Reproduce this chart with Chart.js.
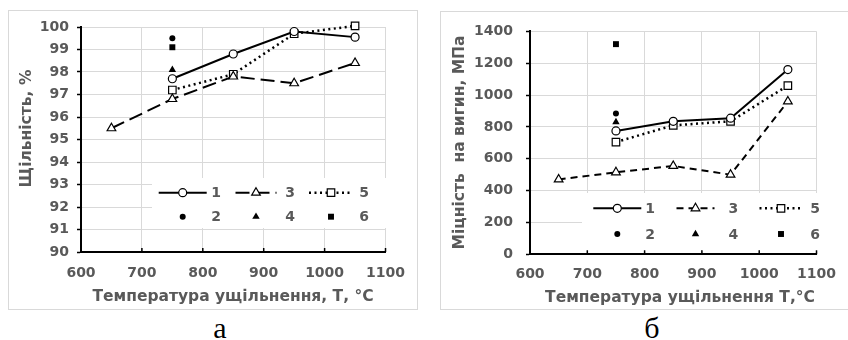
<!DOCTYPE html>
<html>
<head>
<meta charset="utf-8">
<script src="https://cdn.jsdelivr.net/npm/chart.js@4.4.1/dist/chart.umd.min.js"></script>
<style>
  html, body { margin: 0; padding: 0; background: #fff; }
  body { width: 848px; height: 340px; position: relative; overflow: hidden; }
  .frame { position: absolute; border: 1px solid #d9d9d9; box-sizing: border-box; }
  .holder { position: absolute; }
  .cap { position: absolute; font-family: "Liberation Serif", "DejaVu Serif", serif; font-size: 30px; line-height: 30px; color: #000; transform: translateX(-50%); }
</style>
</head>
<body>
<div class="frame" style="left:8px;top:10px;width:410px;height:300px;"></div>
<div class="frame" style="left:440px;top:11px;width:420px;height:299px;"></div>
<div class="holder" style="left:8px;top:10px;width:410px;height:300px;"><canvas id="chartA" width="410" height="300"></canvas></div>
<div class="holder" style="left:440px;top:10px;width:408px;height:300px;"><canvas id="chartB" width="408" height="300"></canvas></div>
<div class="cap" style="left:220px;top:313px;">а</div>
<div class="cap" style="left:652px;top:313px;">б</div>

<script>
// Sintering temperatures, °C
const temps = [750, 850, 950, 1050];
const tempsWide = [650, 750, 850, 950, 1050];
const tempSingle = [750];
const seriesLabels = ['1', '2', '3', '4', '5', '6'];

// Relative density, %
const density1 = [97.7, 98.8, 99.8, 99.55];
const density2 = [99.5];
const density3 = [95.5, 96.8, 97.8, 97.5, 98.4];
const density4 = [98.1];
const density5 = [97.2, 97.9, 99.7, 100.05];
const density6 = [99.1];

// Bending strength, MPa
const strength1 = [775, 835, 855, 1160];
const strength2 = [885];
const strength3 = [470, 515, 555, 500, 960];
const strength4 = [830];
const strength5 = [705, 810, 835, 1060];
const strength6 = [1320];

// Axis tick values
const tempTicks = [600, 700, 800, 900, 1000, 1100];
const densityTicks = [90, 91, 92, 93, 94, 95, 96, 97, 98, 99, 100];
const strengthTicks = [0, 200, 400, 600, 800, 1000, 1200, 1400];

const FONT = '"DejaVu Sans", Verdana, sans-serif';
const GREY = '#595959';

function pts(xs, ys) { return xs.map((x, i) => ({ x: x, y: ys[i] })); }

function buildDatasets(s1, s2, s3, s4, s5, s6, dash3) {
  const base = { borderColor: '#000', pointBorderColor: '#000', clip: false, fill: false, tension: 0 };
  return [
    Object.assign({}, base, { label: seriesLabels[0], data: pts(temps, s1), showLine: true, borderWidth: 2,
      pointStyle: 'circle', pointRadius: 4, pointBackgroundColor: '#fff', pointBorderWidth: 1.2 }),
    Object.assign({}, base, { label: seriesLabels[1], data: pts(tempSingle, s2), showLine: false,
      pointStyle: 'circle', pointRadius: 3, pointBackgroundColor: '#000', pointBorderWidth: 0 }),
    Object.assign({}, base, { label: seriesLabels[2], data: pts(tempsWide, s3), showLine: true, borderWidth: 2, borderDash: dash3,
      pointStyle: 'triangle', pointRadius: 5, pointBackgroundColor: '#fff', pointBorderWidth: 1.2 }),
    Object.assign({}, base, { label: seriesLabels[3], data: pts(tempSingle, s4), showLine: false,
      pointStyle: 'triangle', pointRadius: 4.3, pointBackgroundColor: '#000', pointBorderWidth: 0 }),
    Object.assign({}, base, { label: seriesLabels[4], data: pts(temps, s5), showLine: true, borderWidth: 2.5, borderDash: [2, 3.5],
      pointStyle: 'rect', pointRadius: 5.3, pointBackgroundColor: '#fff', pointBorderWidth: 1.2 }),
    Object.assign({}, base, { label: seriesLabels[5], data: pts(tempSingle, s6), showLine: false,
      pointStyle: 'rect', pointRadius: 4.2, pointBackgroundColor: '#000', pointBorderWidth: 0 })
  ];
}

// Axis titles, inward x ticks and the in-plot legend
const decorPlugin = {
  id: 'decor',
  afterDraw(chart, args, o) {
    const { ctx, chartArea, scales } = chart;
    ctx.save();

    ctx.strokeStyle = '#000';
    ctx.lineWidth = 1.5;
    scales.x.ticks.forEach(t => {
      const px = scales.x.getPixelForValue(t.value);
      if (px <= chartArea.left + 1) return;
      ctx.beginPath();
      ctx.moveTo(px, chartArea.bottom);
      ctx.lineTo(px, chartArea.bottom - 4);
      ctx.stroke();
    });

    const lg = o.legend;
    ctx.fillStyle = '#fff';
    ctx.fillRect(lg.box[0], lg.box[1], lg.box[2] - lg.box[0], lg.box[3] - lg.box[1]);
    chart.data.datasets.forEach((ds, i) => {
      const col = lg.cols[Math.floor(i / 2)];
      const y = lg.rows[i % 2];
      if (ds.showLine) {
        ctx.save();
        ctx.strokeStyle = ds.borderColor;
        ctx.lineWidth = ds.borderWidth;
        ctx.setLineDash(ds.borderDash || []);
        ctx.beginPath();
        ctx.moveTo(col.marker - col.half, y);
        ctx.lineTo(col.marker + col.half, y);
        ctx.stroke();
        ctx.restore();
      }
      ctx.fillStyle = ds.pointBackgroundColor;
      ctx.strokeStyle = ds.pointBorderColor;
      ctx.lineWidth = ds.pointBorderWidth;
      ctx.setLineDash([]);
      Chart.helpers.drawPoint(ctx, { pointStyle: ds.pointStyle, radius: ds.pointRadius, rotation: 0, borderWidth: ds.pointBorderWidth }, col.marker, y);
      ctx.fillStyle = GREY;
      ctx.font = 'bold 14px ' + FONT;
      ctx.textAlign = 'center';
      ctx.textBaseline = 'middle';
      ctx.fillText(ds.label, col.text, y + 1);
    });

    ctx.fillStyle = GREY;
    ctx.font = 'bold 15.5px ' + FONT;
    ctx.textAlign = 'center';
    ctx.textBaseline = 'middle';
    ctx.fillText(o.xTitle, o.xTitlePos[0], o.xTitlePos[1]);
    ctx.translate(o.yTitlePos[0], o.yTitlePos[1]);
    ctx.rotate(-Math.PI / 2);
    ctx.fillText(o.yTitle, 0, 0);
    ctx.restore();
  }
};

function makeChart(id, datasets, yTicks, geo) {
  const tickFont = { family: FONT, size: 14, weight: 'bold' };
  return new Chart(document.getElementById(id), {
    type: 'line',
    data: { datasets: datasets },
    plugins: [decorPlugin],
    options: {
      responsive: false,
      animation: false,
      events: [],
      layout: { padding: { top: geo.top, right: geo.right, left: 0, bottom: 0 } },
      plugins: {
        legend: { display: false },
        tooltip: { enabled: false },
        decor: geo.decor
      },
      scales: {
        x: {
          type: 'linear',
          min: tempTicks[0], max: tempTicks[tempTicks.length - 1],
          afterBuildTicks: s => { s.ticks = tempTicks.map(v => ({ value: v })); },
          afterFit: s => { s.height = geo.xHeight; },
          ticks: { color: GREY, font: tickFont, padding: geo.xPad, maxRotation: 0, callback: v => String(v) },
          grid: { color: '#d9d9d9', lineWidth: 1, drawTicks: false },
          border: { color: '#000', width: 2 }
        },
        y: {
          min: yTicks[0], max: yTicks[yTicks.length - 1],
          afterBuildTicks: s => { s.ticks = yTicks.map(v => ({ value: v })); },
          afterFit: s => { s.width = geo.yWidth; },
          ticks: { color: GREY, font: tickFont, padding: geo.yPad, callback: v => String(v) },
          grid: { color: '#d9d9d9', lineWidth: 1, tickColor: '#000', tickLength: 4, tickWidth: 1.5 },
          border: { color: '#000', width: 2 }
        }
      }
    }
  });
}

makeChart('chartA',
  buildDatasets(density1, density2, density3, density4, density5, density6, [14, 6]),
  densityTicks,
  {
    top: 17, right: 29.5, xHeight: 58, yWidth: 73, xPad: 13, yPad: 8,
    decor: {
      xTitle: 'Температура ущільнення, Т, °C', xTitlePos: [225, 287],
      yTitle: 'Щільність, %', yTitlePos: [18.5, 118.5],
      legend: {
        box: [144, 168, 378, 218],
        rows: [182.7, 206.7],
        cols: [
          { marker: 174.7, half: 24, text: 208 },
          { marker: 248, half: 20.5, text: 282 },
          { marker: 323, half: 22, text: 356 }
        ]
      }
    }
  });

makeChart('chartB',
  buildDatasets(strength1, strength2, strength3, strength4, strength5, strength6, [7, 5]),
  strengthTicks,
  {
    top: 14.3, right: 20, xHeight: 55.7, yWidth: 90, xPad: 12, yPad: 13,
    decor: {
      xTitle: 'Температура ущільнення Т,°C', xTitlePos: [240, 287.5],
      yTitle: 'Міцність  на вигин, МПа', yTitlePos: [20, 132.5],
      legend: {
        box: [142, 183, 387, 240],
        rows: [198.3, 224],
        cols: [
          { marker: 177.3, half: 24, text: 210 },
          { marker: 255.5, half: 19, text: 293.3 },
          { marker: 341, half: 21.5, text: 375 }
        ]
      }
    }
  });
</script>
</body>
</html>
